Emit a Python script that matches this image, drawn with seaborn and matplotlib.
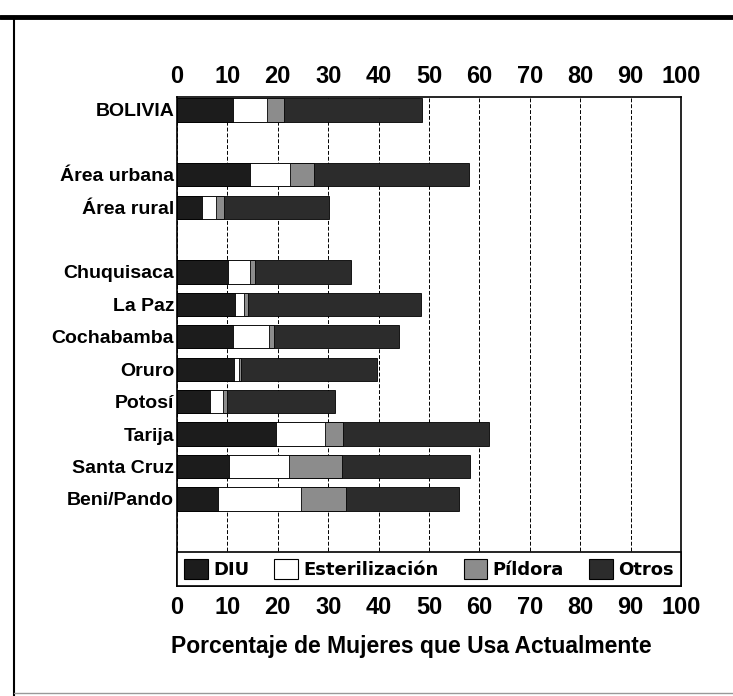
import pandas as pd
import seaborn as sns
import matplotlib.pyplot as plt
from matplotlib.patches import Patch
from matplotlib.lines import Line2D

regiones = ["BOLIVIA", "Área urbana", "Área rural", "Chuquisaca", "La Paz",
            "Cochabamba", "Oruro", "Potosí", "Tarija", "Santa Cruz", "Beni/Pando"]
diu = [11.1, 14.4, 5.0, 10.1, 11.5, 11.1, 11.4, 6.6, 19.6, 10.4, 8.2]
esterilizacion = [6.8, 8.1, 2.8, 4.3, 1.7, 7.2, 0.9, 2.6, 9.8, 11.9, 16.5]
pildora = [3.4, 4.6, 1.6, 1.1, 0.8, 1.0, 0.4, 0.7, 3.5, 10.4, 8.8]
otros = [27.4, 30.8, 20.7, 19.1, 34.5, 24.7, 27.0, 21.4, 29.0, 25.4, 22.4]

# blank categories make the gaps between groups
orden = ["BOLIVIA", " ", "Área urbana", "Área rural", "  ", "Chuquisaca", "La Paz",
         "Cochabamba", "Oruro", "Potosí", "Tarija", "Santa Cruz", "Beni/Pando"]

data = pd.DataFrame({"region": regiones, "DIU": diu, "Esterilización": esterilizacion,
                     "Píldora": pildora, "Otros": otros})
metodos = ["DIU", "Esterilización", "Píldora", "Otros"]
colores = {"DIU": "#1c1c1c", "Esterilización": "white", "Píldora": "#8c8c8c", "Otros": "#2c2c2c"}
acum = data[metodos].cumsum(axis=1)
acum["region"] = data["region"]

sns.set_style("white")
plt.rcParams["text.color"] = "black"
plt.rcParams["xtick.color"] = "black"
plt.rcParams["ytick.color"] = "black"
plt.rcParams["axes.labelcolor"] = "black"
fuente = ["Liberation Sans", "DejaVu Sans"]

fig = plt.figure(figsize=(7.33, 6.96), dpi=100)
ax = fig.add_axes([0.2415, 0.158, 0.6875, 0.702])

# draw from the longest cumulative bar to the shortest
for m in reversed(metodos):
    sns.barplot(data=acum, x=m, y="region", order=orden, color=colores[m],
                saturation=1, width=0.72, edgecolor="black", linewidth=0.6,
                errorbar=None, ax=ax)

ax.set_xlim(0, 100)
ax.set_ylim(14.69, -0.386)
ax.set_xticks(range(0, 101, 10))
ax.xaxis.grid(True, color="black", linestyle=(0, (4, 2)), linewidth=0.7)
ax.set_axisbelow(True)
ax.tick_params(axis="x", labeltop=True, top=False, bottom=False, length=0, pad=7)
ax.tick_params(axis="y", length=0, pad=2)
for lab in ax.get_xticklabels():
    lab.set_family(fuente)
    lab.set_fontweight("bold")
    lab.set_fontsize(17)
for lab in ax.get_yticklabels():
    lab.set_family(fuente)
    lab.set_fontweight("bold")
    lab.set_fontsize(14)
for s in ax.spines.values():
    s.set_color("black")
    s.set_linewidth(1.2)

ax.set_ylabel("")
ax.set_xlabel("Porcentaje de Mujeres que Usa Actualmente", family=fuente,
              fontweight="bold", fontsize=16.5)
ax.xaxis.set_label_coords(0.465, -0.1)

handles = [Patch(facecolor=colores[m], edgecolor="black", linewidth=0.8) for m in metodos]
leg = ax.legend(handles, metodos, loc="lower left", bbox_to_anchor=(0, 0, 1, 0.115),
                mode="expand", ncol=4, frameon=True, fancybox=False, framealpha=1,
                edgecolor="black", borderaxespad=0, handlelength=1.3, handleheight=1.3,
                handletextpad=0.3, columnspacing=0.5,
                prop={"family": "DejaVu Sans", "weight": "bold", "size": 13})
leg.get_frame().set_linewidth(1.2)

# outer frame of the scanned page
fig.add_artist(Line2D([0.0, 1.0], [0.976, 0.976], color="black", linewidth=3.5,
                      transform=fig.transFigure))
fig.add_artist(Line2D([0.019, 0.019], [0.0, 0.976], color="black", linewidth=1.5,
                      transform=fig.transFigure))
fig.add_artist(Line2D([0.019, 1.0], [0.005, 0.005], color="#999999", linewidth=1.0,
                      transform=fig.transFigure))

fig.savefig("out.png", dpi=100)
